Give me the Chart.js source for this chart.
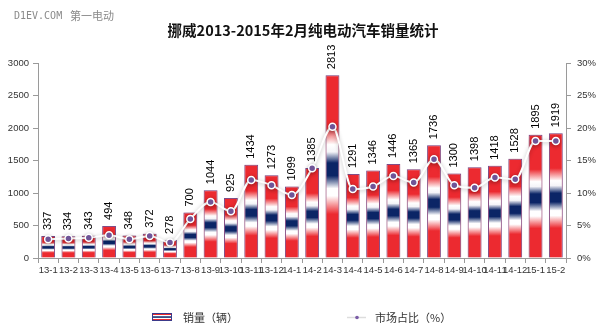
<!DOCTYPE html>
<html>
<head>
<meta charset="utf-8">
<script src="https://cdn.jsdelivr.net/npm/chart.js@4.4.0/dist/chart.umd.min.js"></script>
<style>
  html, body { margin: 0; padding: 0; background: #ffffff; }
  #wrap { width: 600px; height: 335px; position: relative; }
</style>
</head>
<body>
<div id="wrap"><canvas id="c" width="600" height="335"></canvas></div>
<script>
// Monthly battery-electric car sales in Norway, Jan 2013 – Feb 2015
const months = [
  '13-1', '13-2', '13-3', '13-4', '13-5', '13-6', '13-7', '13-8', '13-9', '13-10', '13-11', '13-12',
  '14-1', '14-2', '14-3', '14-4', '14-5', '14-6', '14-7', '14-8', '14-9', '14-10', '14-11', '14-12',
  '15-1', '15-2'
];
// units sold
const sales = [
  337, 334, 343, 494, 348, 372, 278, 700, 1044, 925, 1434, 1273,
  1099, 1385, 2813, 1291, 1346, 1446, 1365, 1736, 1300, 1398, 1418, 1528,
  1895, 1919
];
// market share, %
const share = [
  2.9, 3.0, 3.1, 3.5, 2.9, 3.4, 2.4, 6.0, 8.6, 7.2, 12.0, 11.2,
  9.7, 13.8, 20.2, 10.6, 11.0, 12.6, 11.6, 15.2, 11.2, 10.8, 12.4, 12.1,
  18.0, 18.0
];
const salesTicks = [0, 500, 1000, 1500, 2000, 2500, 3000];
const shareTicks = [0, 5, 10, 15, 20, 25, 30];

const titleText = '挪威2013-2015年2月纯电动汽车销量统计';
const salesLabel = '销量（辆）';
const shareLabel = '市场占比（%）';

const RED = '#ec2a30';
const NAVY = '#0b2566';

// flag-like vertical gradient spanning one bar
function barFill(ctx, top, base) {
  const g = ctx.createLinearGradient(0, top, 0, base);
  g.addColorStop(0.00, RED);
  g.addColorStop(0.28, RED);
  g.addColorStop(0.38, '#ffffff');
  g.addColorStop(0.42, '#f4f4f8');
  g.addColorStop(0.48, NAVY);
  g.addColorStop(0.55, NAVY);
  g.addColorStop(0.62, '#ffffff');
  g.addColorStop(0.66, '#ffffff');
  g.addColorStop(0.76, RED);
  g.addColorStop(1.00, RED);
  return g;
}

// soft glow under the bars and the share line
const glowPlugin = {
  id: 'glow',
  beforeDatasetDraw(chart, args) {
    const ctx = chart.ctx;
    ctx.save();
    if (args.index === 0) {
      ctx.shadowColor = 'rgba(225, 90, 90, 0.55)';
      ctx.shadowBlur = 5;
    } else {
      ctx.shadowColor = 'rgba(0, 0, 0, 0.28)';
      ctx.shadowBlur = 4;
      ctx.shadowOffsetY = 1;
    }
  },
  afterDatasetDraw(chart) {
    chart.ctx.restore();
  }
};

// vertical value labels above each bar
const valueLabels = {
  id: 'valueLabels',
  afterDatasetsDraw(chart) {
    const ctx = chart.ctx;
    const meta = chart.getDatasetMeta(0);
    ctx.save();
    ctx.fillStyle = '#000000';
    ctx.font = '11px "Liberation Sans", Arial, sans-serif';
    ctx.textAlign = 'left';
    ctx.textBaseline = 'middle';
    meta.data.forEach((el, i) => {
      ctx.save();
      ctx.translate(el.x, el.y - 6);
      ctx.rotate(-Math.PI / 2);
      ctx.fillText(String(sales[i]), 0, 0);
      ctx.restore();
    });
    ctx.restore();
  }
};

// title, site mark and legend
const decor = {
  id: 'decor',
  afterDraw(chart) {
    const ctx = chart.ctx;
    ctx.save();

    ctx.fillStyle = '#8a8a8a';
    ctx.textAlign = 'left';
    ctx.textBaseline = 'middle';
    ctx.font = '10px "DejaVu Sans Mono", monospace';
    ctx.fillText('D1EV.COM', 14, 16);
    ctx.font = '11px "Noto Sans CJK SC", sans-serif';
    ctx.fillText('第一电动', 70, 16);

    ctx.fillStyle = '#111111';
    ctx.textAlign = 'center';
    ctx.font = 'bold 14.5px "Noto Sans CJK SC", sans-serif';
    ctx.fillText(titleText, 303, 30);

    // bar legend swatch
    const sx = 152, sy = 313, sw = 20, sh = 8;
    ctx.fillStyle = RED;
    ctx.fillRect(sx, sy, sw, sh);
    ctx.fillStyle = '#ffffff';
    ctx.fillRect(sx, sy + 2, sw, 4);
    ctx.fillStyle = NAVY;
    ctx.fillRect(sx, sy + 3.3, sw, 1.5);
    ctx.strokeStyle = '#3c3a8a';
    ctx.lineWidth = 1;
    ctx.strokeRect(sx + 0.5, sy + 0.5, sw - 1, sh - 1);

    ctx.fillStyle = '#333333';
    ctx.textAlign = 'left';
    ctx.font = '11px "Noto Sans CJK SC", sans-serif';
    ctx.fillText(salesLabel, 183, 318);

    // line legend swatch
    ctx.strokeStyle = '#dddddd';
    ctx.lineWidth = 1.5;
    ctx.beginPath();
    ctx.moveTo(347, 317.5);
    ctx.lineTo(366, 317.5);
    ctx.stroke();
    ctx.fillStyle = '#7a5ca6';
    ctx.beginPath();
    ctx.arc(357, 317.5, 1.8, 0, Math.PI * 2);
    ctx.fill();

    ctx.fillStyle = '#333333';
    ctx.fillText(shareLabel, 375, 318);

    ctx.restore();
  }
};

const tickFont = { family: '"Liberation Sans", Arial, sans-serif', size: 9.5 };

new Chart(document.getElementById('c'), {
  data: {
    labels: months,
    datasets: [
      {
        type: 'bar',
        label: salesLabel,
        data: sales,
        yAxisID: 'y',
        order: 2,
        barPercentage: 0.68,
        categoryPercentage: 1,
        borderWidth: 1,
        borderColor: '#6a4a92',
        backgroundColor: (c) => {
          const chart = c.chart;
          if (!chart.chartArea || c.type !== 'data') return RED;
          const y = chart.scales.y;
          return barFill(chart.ctx, y.getPixelForValue(c.raw), y.getPixelForValue(0));
        }
      },
      {
        type: 'line',
        label: shareLabel,
        data: share,
        yAxisID: 'y1',
        order: 1,
        borderColor: '#ffffff',
        borderWidth: 2,
        tension: 0.4,
        cubicInterpolationMode: 'monotone',
        pointRadius: 3.5,
        pointBackgroundColor: '#7a5ca6',
        pointBorderColor: '#ffffff',
        pointBorderWidth: 1.5,
        fill: false
      }
    ]
  },
  options: {
    responsive: false,
    animation: false,
    devicePixelRatio: 1,
    layout: { padding: { top: 63, left: 0, right: 0, bottom: 0 } },
    plugins: {
      legend: { display: false },
      title: { display: false },
      tooltip: { enabled: false }
    },
    scales: {
      x: {
        offset: true,
        grid: {
          display: true,
          drawOnChartArea: false,
          offset: true,
          tickLength: 5,
          color: '#9a9a9a'
        },
        border: { color: '#9a9a9a' },
        ticks: {
          autoSkip: false,
          maxRotation: 0,
          minRotation: 0,
          padding: 2,
          color: '#333333',
          font: tickFont
        },
        afterFit: (s) => { s.height = 77; }
      },
      y: {
        position: 'left',
        min: 0,
        max: 3000,
        afterBuildTicks: (s) => { s.ticks = salesTicks.map(v => ({ value: v })); },
        grid: { display: true, drawOnChartArea: false, tickLength: 5, color: '#9a9a9a' },
        border: { color: '#9a9a9a' },
        ticks: {
          padding: 4,
          color: '#333333',
          font: tickFont,
          callback: (v) => String(v)
        },
        afterFit: (s) => { s.width = 38; }
      },
      y1: {
        position: 'right',
        min: 0,
        max: 30,
        afterBuildTicks: (s) => { s.ticks = shareTicks.map(v => ({ value: v })); },
        grid: { display: true, drawOnChartArea: false, tickLength: 5, color: '#9a9a9a' },
        border: { color: '#9a9a9a' },
        ticks: {
          padding: 6,
          color: '#333333',
          font: tickFont,
          callback: (v) => v + '%'
        },
        afterFit: (s) => { s.width = 34; }
      }
    }
  },
  plugins: [glowPlugin, valueLabels, decor]
});
</script>
</body>
</html>
